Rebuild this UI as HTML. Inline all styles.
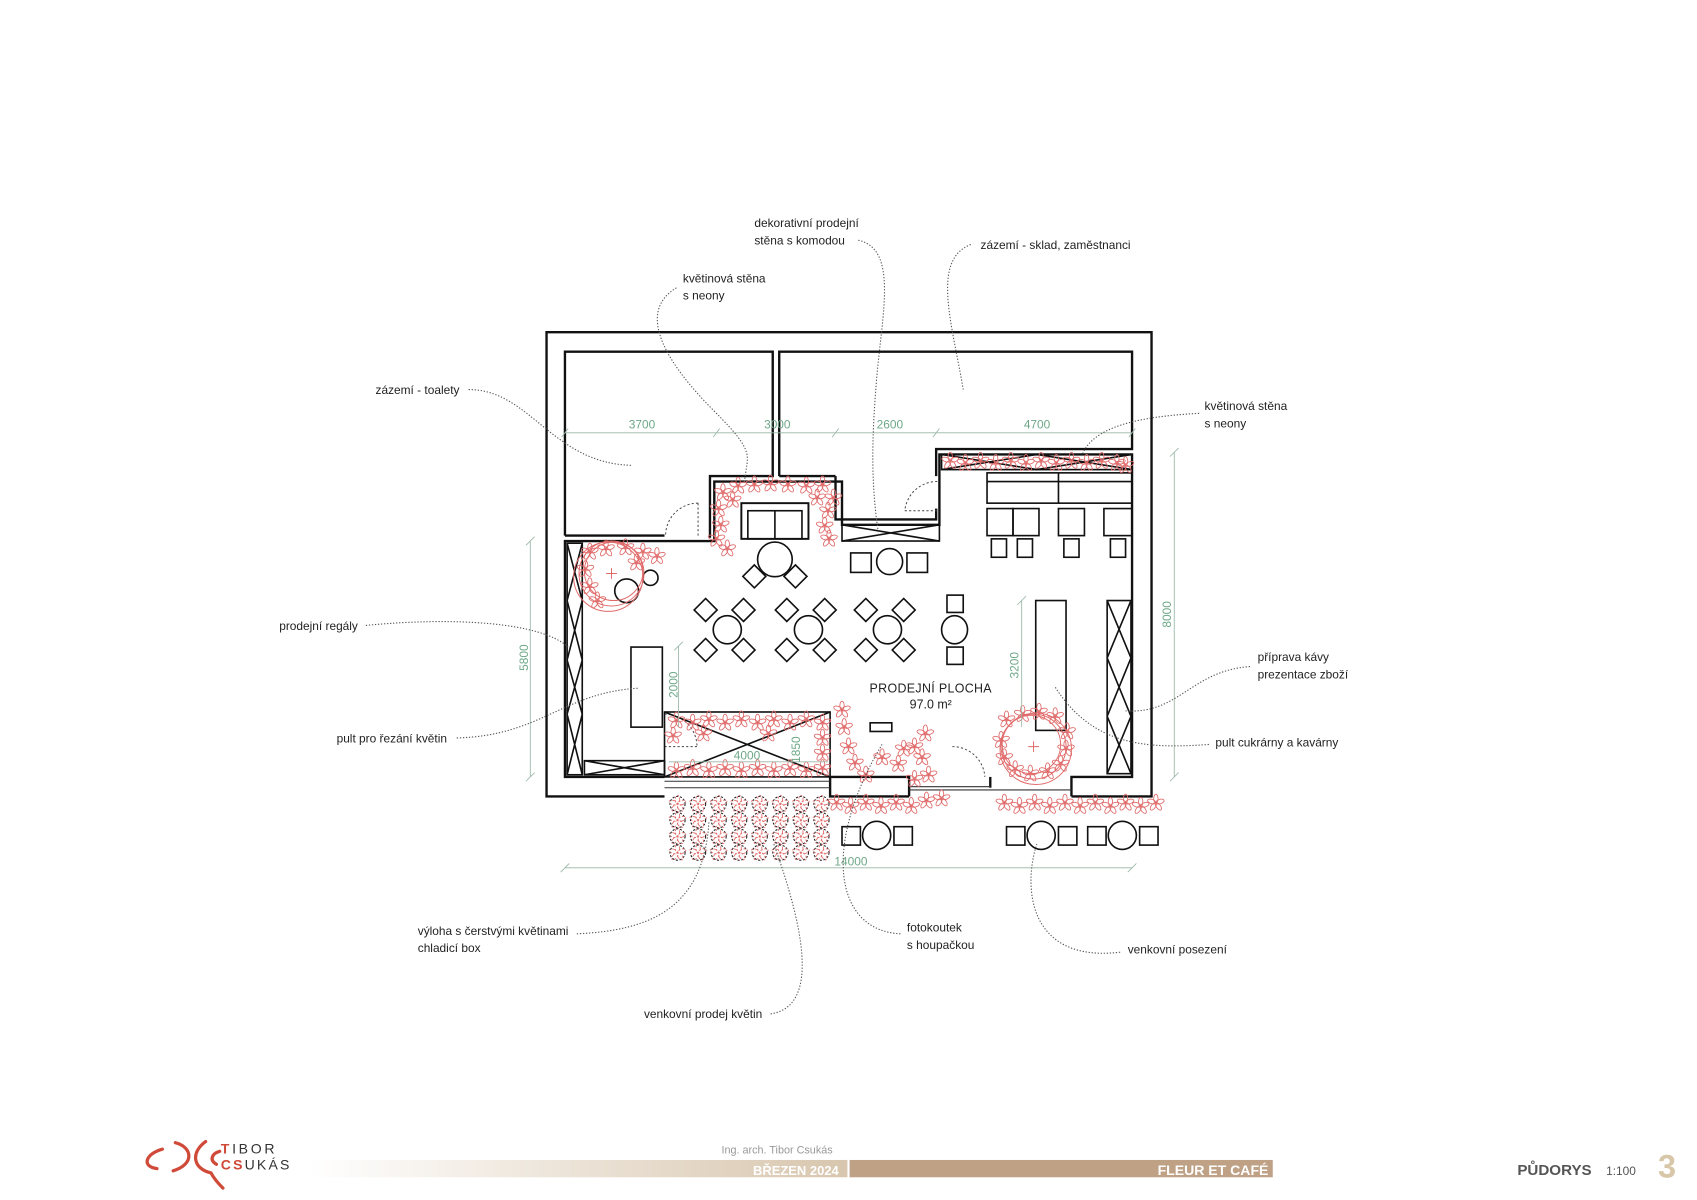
<!DOCTYPE html>
<html><head><meta charset="utf-8">
<style>
html,body{margin:0;padding:0;background:#fff;}
svg{display:block;}
text{font-family:"Liberation Sans",sans-serif;}
</style></head>
<body>
<svg width="1697" height="1200" viewBox="0 0 1568 1109" preserveAspectRatio="none" xmlns="http://www.w3.org/2000/svg">
<defs>
<g id="fl" fill="none" stroke="#e06a6a" stroke-width="0.8">
<ellipse cx="0" cy="-4" rx="2" ry="4"/>
<ellipse cx="0" cy="-4" rx="2" ry="4" transform="rotate(72)"/>
<ellipse cx="0" cy="-4" rx="2" ry="4" transform="rotate(144)"/>
<ellipse cx="0" cy="-4" rx="2" ry="4" transform="rotate(216)"/>
<ellipse cx="0" cy="-4" rx="2" ry="4" transform="rotate(288)"/>
</g>
<linearGradient id="gb" x1="0" x2="1"><stop offset="0" stop-color="#fff"/><stop offset="1" stop-color="#d8c6ae"/></linearGradient>
</defs>
<rect width="1568" height="1109" fill="#fff"/>

<g fill="none" stroke="#111" stroke-width="2.2">
<path d="M614,736 L505,736 L505,307 L1064,307 L1064,736 L990,736"/>
<path d="M614,718 L522,718 L522,500 L614,500"/>
<path d="M840,736 L767,736 L767,718"/>
<path d="M840,736 L840,718 L767,718"/>
<path d="M915,718 L915,728"/>
<path d="M990,736 L990,718 L1046,718 L1046,500"/>
<path d="M522,495 L614,495 M656,497 L656,440 L714,440 L714,325 L522,325 L522,495"/>
<path d="M614,500 L660,500 L660,445 L778,445 L778,485 L868,485 L868,420 L1046,420 L1046,500"/>
<path d="M720,440 L720,325 L1046,325 L1046,415 L865,415 L865,440"/>
<path d="M772,440 L772,480 L865,480 L865,470"/>
<path d="M720,440 L772,440"/>
</g>
<g stroke="#333" stroke-width="1">
<line x1="614" y1="722" x2="767" y2="722"/><line x1="614" y1="728" x2="767" y2="728"/>
<line x1="840" y1="727" x2="915" y2="727"/><line x1="840" y1="730" x2="990" y2="730"/>
</g>
<g fill="none" stroke="#444" stroke-width="0.9" stroke-dasharray="2,2">
<path d="M645,465 A30,30 0 0 0 615,495"/><line x1="645" y1="465" x2="645" y2="497"/>
<path d="M866,445 A30,30 0 0 0 836,472"/><line x1="836" y1="472" x2="866" y2="472"/>
<path d="M614,660 A30,30 0 0 1 644,690"/><line x1="614" y1="690" x2="644" y2="690"/>
<path d="M880,690 A30,30 0 0 1 910,718"/>
</g>

<g fill="none" stroke="#111" stroke-width="1.5">
<rect x="524" y="502" width="14" height="214"/>
<path d="M524,502 L538,555 M538,502 L524,555 M524,555 L538,610 M538,555 L524,610 M524,610 L538,660 M538,610 L524,660 M524,660 L538,716 M538,660 L524,716"/>
<rect x="540" y="703" width="74" height="13"/>
<path d="M540,703 L614,716 M614,703 L540,716"/>
<rect x="583" y="598" width="29" height="74"/>
<rect x="614" y="658" width="153" height="60"/>
<path d="M614,658 L767,718 M767,658 L614,718"/>
<rect x="778" y="485" width="90" height="15"/>
<path d="M778,485 L868,500 M868,485 L778,500"/>
<rect x="870" y="420" width="176" height="14"/>
<path d="M870,420 L958,434 L1046,420 M870,434 L958,420 L1046,434"/>
<rect x="912" y="437" width="134" height="28"/><line x1="978" y1="437" x2="978" y2="465"/><line x1="912" y1="445" x2="1046" y2="445"/>
<rect x="912" y="470" width="24" height="25"/><rect x="936" y="470" width="24" height="25"/>
<rect x="978" y="470" width="24" height="25"/><rect x="1020" y="470" width="26" height="25"/>
<rect x="916" y="498" width="14" height="17"/><rect x="940" y="498" width="14" height="17"/>
<rect x="983" y="498" width="14" height="17"/><rect x="1026" y="498" width="14" height="17"/>
<rect x="957" y="555" width="28" height="120"/>
<rect x="1023" y="555" width="22" height="160"/>
<path d="M1023,555 L1045,608 M1045,555 L1023,608 M1023,608 L1045,662 M1045,608 L1023,662 M1023,662 L1045,715 M1045,662 L1023,715"/>
<rect x="685" y="465" width="62" height="33" stroke-width="1.8"/><line x1="716" y1="472" x2="716" y2="498"/><rect x="691" y="472" width="50" height="26"/>
<circle cx="716" cy="517" r="16"/>
<rect x="690" y="525" width="15" height="15" transform="rotate(45 697 532)"/>
<rect x="728" y="525" width="15" height="15" transform="rotate(45 735 532)"/>
<rect x="786" y="511" width="19" height="18"/><circle cx="822" cy="519" r="12"/><rect x="838" y="511" width="19" height="18"/>
<rect x="875" y="550" width="15" height="16"/><ellipse cx="882" cy="582" rx="12" ry="13"/><rect x="875" y="598" width="15" height="16"/>
<rect x="804" y="668" width="20" height="8"/>
</g>
<g fill="none" stroke="#111" stroke-width="1.5">
<g id="t4"><circle cx="672" cy="582" r="13"/>
<rect x="645" y="556" width="15" height="15" transform="rotate(45 652 563)"/>
<rect x="680" y="556" width="15" height="15" transform="rotate(45 687 563)"/>
<rect x="645" y="593" width="15" height="15" transform="rotate(45 652 600)"/>
<rect x="680" y="593" width="15" height="15" transform="rotate(45 687 600)"/></g>
<use href="#t4" x="75"/><use href="#t4" x="148"/>
<circle cx="579" cy="546" r="11"/><circle cx="601" cy="534" r="7"/>
<rect x="778" y="764" width="17" height="17"/><circle cx="810" cy="772" r="13"/><rect x="826" y="764" width="17" height="17"/>
<rect x="930" y="764" width="17" height="17"/><circle cx="962" cy="772" r="13"/><rect x="978" y="764" width="17" height="17"/>
<rect x="1005" y="764" width="17" height="17"/><circle cx="1037" cy="772" r="13"/><rect x="1053" y="764" width="17" height="17"/>
</g>
<g fill="none" stroke="#e06a6a" stroke-width="0.9">
<circle cx="565" cy="530" r="30"/><circle cx="567" cy="528" r="27"/><circle cx="562" cy="533" r="32"/>
<circle cx="955" cy="690" r="30"/><circle cx="953" cy="688" r="27"/><circle cx="957" cy="692" r="33"/>
<path d="M560,530 h10 M565,525 v10 M950,690 h10 M955,685 v10"/>
</g>
<g>
<use href="#fl" x="668" y="455"/><use href="#fl" x="682" y="449"/><use href="#fl" x="697" y="448"/><use href="#fl" x="712" y="447"/><use href="#fl" x="728" y="448"/><use href="#fl" x="745" y="449"/><use href="#fl" x="760" y="448"/><use href="#fl" x="770" y="460"/>
<use href="#fl" x="664" y="470"/><use href="#fl" x="666" y="485"/><use href="#fl" x="662" y="498"/><use href="#fl" x="672" y="507"/><use href="#fl" x="765" y="472"/><use href="#fl" x="762" y="486"/><use href="#fl" x="766" y="498"/><use href="#fl" x="677" y="462"/><use href="#fl" x="755" y="460"/>
<use href="#fl" x="878" y="426"/><use href="#fl" x="892" y="428"/><use href="#fl" x="906" y="426"/><use href="#fl" x="920" y="428"/><use href="#fl" x="934" y="426"/><use href="#fl" x="948" y="428"/><use href="#fl" x="962" y="426"/><use href="#fl" x="976" y="428"/><use href="#fl" x="990" y="426"/><use href="#fl" x="1004" y="428"/><use href="#fl" x="1018" y="426"/><use href="#fl" x="1032" y="428"/><use href="#fl" x="1040" y="430"/>
<use href="#fl" x="545" y="510"/><use href="#fl" x="560" y="507"/><use href="#fl" x="578" y="506"/><use href="#fl" x="594" y="510"/><use href="#fl" x="607" y="514"/><use href="#fl" x="541" y="526"/><use href="#fl" x="545" y="542"/><use href="#fl" x="552" y="555"/><use href="#fl" x="588" y="520"/>
<use href="#fl" x="625" y="666"/><use href="#fl" x="640" y="668"/><use href="#fl" x="655" y="665"/><use href="#fl" x="670" y="668"/><use href="#fl" x="685" y="665"/><use href="#fl" x="700" y="668"/><use href="#fl" x="715" y="665"/><use href="#fl" x="730" y="668"/><use href="#fl" x="745" y="665"/><use href="#fl" x="760" y="668"/>
<use href="#fl" x="625" y="712"/><use href="#fl" x="640" y="710"/><use href="#fl" x="655" y="712"/><use href="#fl" x="670" y="710"/><use href="#fl" x="685" y="712"/><use href="#fl" x="700" y="710"/><use href="#fl" x="715" y="712"/><use href="#fl" x="730" y="710"/><use href="#fl" x="745" y="712"/><use href="#fl" x="760" y="710"/>
<use href="#fl" x="622" y="680"/><use href="#fl" x="760" y="682"/><use href="#fl" x="760" y="696"/><use href="#fl" x="650" y="678"/><use href="#fl" x="710" y="678"/>
<use href="#fl" x="780" y="672"/><use href="#fl" x="784" y="690"/><use href="#fl" x="790" y="705"/><use href="#fl" x="800" y="716"/><use href="#fl" x="815" y="700"/><use href="#fl" x="830" y="706"/><use href="#fl" x="845" y="690"/><use href="#fl" x="855" y="678"/><use href="#fl" x="852" y="700"/><use href="#fl" x="858" y="716"/><use href="#fl" x="845" y="720"/><use href="#fl" x="835" y="692"/><use href="#fl" x="778" y="656"/>
<use href="#fl" x="930" y="665"/><use href="#fl" x="945" y="660"/><use href="#fl" x="960" y="658"/><use href="#fl" x="975" y="662"/><use href="#fl" x="986" y="676"/><use href="#fl" x="985" y="692"/><use href="#fl" x="980" y="706"/><use href="#fl" x="968" y="713"/><use href="#fl" x="952" y="715"/><use href="#fl" x="938" y="711"/><use href="#fl" x="928" y="700"/><use href="#fl" x="925" y="684"/>
<use href="#fl" x="773" y="742"/><use href="#fl" x="786" y="745"/><use href="#fl" x="800" y="742"/><use href="#fl" x="814" y="745"/><use href="#fl" x="828" y="742"/><use href="#fl" x="842" y="745"/><use href="#fl" x="856" y="740"/><use href="#fl" x="870" y="738"/>
<use href="#fl" x="928" y="742"/><use href="#fl" x="942" y="745"/><use href="#fl" x="956" y="742"/><use href="#fl" x="970" y="745"/><use href="#fl" x="984" y="742"/><use href="#fl" x="998" y="745"/><use href="#fl" x="1012" y="742"/><use href="#fl" x="1026" y="745"/><use href="#fl" x="1040" y="742"/><use href="#fl" x="1054" y="745"/><use href="#fl" x="1068" y="742"/>
</g>
<g fill="none" stroke="#222" stroke-width="1" stroke-dasharray="2,1.5">
<g id="row">
<circle cx="626" cy="743" r="7"/><circle cx="645" cy="743" r="7"/><circle cx="664" cy="743" r="7"/><circle cx="683" cy="743" r="7"/><circle cx="702" cy="743" r="7"/><circle cx="721" cy="743" r="7"/><circle cx="740" cy="743" r="7"/><circle cx="759" cy="743" r="7"/>
<use href="#fl" x="626" y="743"/><use href="#fl" x="645" y="743"/><use href="#fl" x="664" y="743"/><use href="#fl" x="683" y="743"/><use href="#fl" x="702" y="743"/><use href="#fl" x="721" y="743"/><use href="#fl" x="740" y="743"/><use href="#fl" x="759" y="743"/>
</g>
<use href="#row" y="15"/><use href="#row" y="30"/><use href="#row" y="45"/>
</g>

<g stroke="#9ab8a8" stroke-width="0.8" fill="none">
<line x1="522" y1="400" x2="1046" y2="400"/>
<path d="M659,404 l6,-8 M769,404 l6,-8 M862,404 l6,-8 M519,404 l6,-8 M1043,404 l6,-8"/>
<line x1="490" y1="500" x2="490" y2="718"/><path d="M486,504 l8,-8 M486,722 l8,-8"/>
<line x1="1085" y1="418" x2="1085" y2="718"/><path d="M1081,422 l8,-8 M1081,722 l8,-8"/>
<line x1="627" y1="597" x2="627" y2="672"/><path d="M623,601 l8,-8"/>
<line x1="944" y1="555" x2="944" y2="672"/><path d="M940,559 l8,-8"/>
<line x1="522" y1="802" x2="1046" y2="802"/><path d="M518,806 l8,-8 M1042,806 l8,-8"/>
<line x1="618" y1="704" x2="765" y2="704"/>
</g>
<g fill="#6fa888" font-size="11">
<text x="581" y="396">3700</text><text x="706" y="396">3000</text><text x="810" y="396">2600</text><text x="946" y="396">4700</text>
<text x="678" y="702">4000</text><text x="771" y="800">14000</text>
<text transform="translate(488,620) rotate(-90)">5800</text>
<text transform="translate(1082,580) rotate(-90)">8000</text>
<text transform="translate(626,645) rotate(-90)">2000</text>
<text transform="translate(941,627) rotate(-90)">3200</text>
<text transform="translate(739,705) rotate(-90)">1850</text>
</g>

<text x="860" y="640" font-size="11.5" text-anchor="middle" fill="#222" letter-spacing="0.3">PRODEJNÍ PLOCHA</text>
<text x="860" y="655" font-size="11.5" text-anchor="middle" fill="#222">97.0 m²</text>

<g fill="none" stroke="#555" stroke-width="1" stroke-dasharray="1.2,1.6">
<path d="M433,360 C490,360 510,428 583,430"/>
<path d="M625,266 C585,290 620,340 660,380 S690,420 688,445"/>
<path d="M793,222 C830,230 815,290 810,350 S805,450 812,495"/>
<path d="M897,226 C860,240 880,300 890,360"/>
<path d="M1108,382 C1050,385 1010,395 1000,420"/>
<path d="M338,578 C420,570 500,575 525,598"/>
<path d="M422,682 C500,680 520,640 590,636"/>
<path d="M1155,616 C1100,620 1090,660 1040,657"/>
<path d="M1117,688 C1060,692 1010,690 975,635"/>
<path d="M533,863 C600,860 650,840 655,760"/>
<path d="M712,937 C760,930 740,850 715,780"/>
<path d="M832,863 C770,860 760,780 815,688"/>
<path d="M1035,880 C950,890 945,820 958,780"/>
</g>
<g font-size="11" fill="#222">
<text x="347" y="364">zázemí - toalety</text>
<text x="631" y="261">květinová stěna</text><text x="631" y="277">s neony</text>
<text x="697" y="210">dekorativní prodejní</text><text x="697" y="226">stěna s komodou</text>
<text x="906" y="230">zázemí - sklad, zaměstnanci</text>
<text x="1113" y="379">květinová stěna</text><text x="1113" y="395">s neony</text>
<text x="258" y="582">prodejní regály</text>
<text x="311" y="686">pult pro řezání květin</text>
<text x="1162" y="611">příprava kávy</text><text x="1162" y="627">prezentace zboží</text>
<text x="1123" y="690">pult cukrárny a kavárny</text>
<text x="386" y="864">výloha s čerstvými květinami</text><text x="386" y="880">chladicí box</text>
<text x="595" y="941">venkovní prodej květin</text>
<text x="838" y="861">fotokoutek</text><text x="838" y="877">s houpačkou</text>
<text x="1042" y="881">venkovní posezení</text>
</g>

<g fill="none" stroke="#d04a3a" stroke-width="3" stroke-linecap="round">
<path d="M150,1062 C135,1066 130,1078 145,1080"/>
<path d="M162,1056 C178,1060 180,1076 160,1082"/>
<path d="M190,1055 C176,1065 178,1080 195,1084 C198,1090 203,1095 206,1098"/>
<path d="M203,1064 C196,1066 193,1072 200,1076"/>
</g>
<text x="204" y="1066" font-size="13" fill="#333" letter-spacing="2.5"><tspan fill="#d04a3a" font-weight="bold">T</tspan>IBOR</text>
<text x="204" y="1081" font-size="13" fill="#333" letter-spacing="2"><tspan fill="#d04a3a" font-weight="bold">CS</tspan>UKÁS</text>
<rect x="285" y="1072" width="498" height="16" fill="url(#gb)"/>
<rect x="785" y="1072" width="391" height="16" fill="#bfa186"/>
<text x="718" y="1066" font-size="10" fill="#999" text-anchor="middle">Ing. arch. Tibor Csukás</text>
<text x="775" y="1086" font-size="12" fill="#fff" font-weight="bold" text-anchor="end">BŘEZEN 2024</text>
<text x="1172" y="1086" font-size="13" fill="#fff" font-weight="bold" text-anchor="end">FLEUR ET CAFÉ</text>
<text x="1402" y="1086" font-size="14" fill="#555" font-weight="bold">PŮDORYS</text>
<text x="1484" y="1086" font-size="11" fill="#555">1:100</text>
<text x="1532" y="1088" font-size="30" fill="#d8c6a8" font-weight="bold">3</text>
</svg>
</body></html>
